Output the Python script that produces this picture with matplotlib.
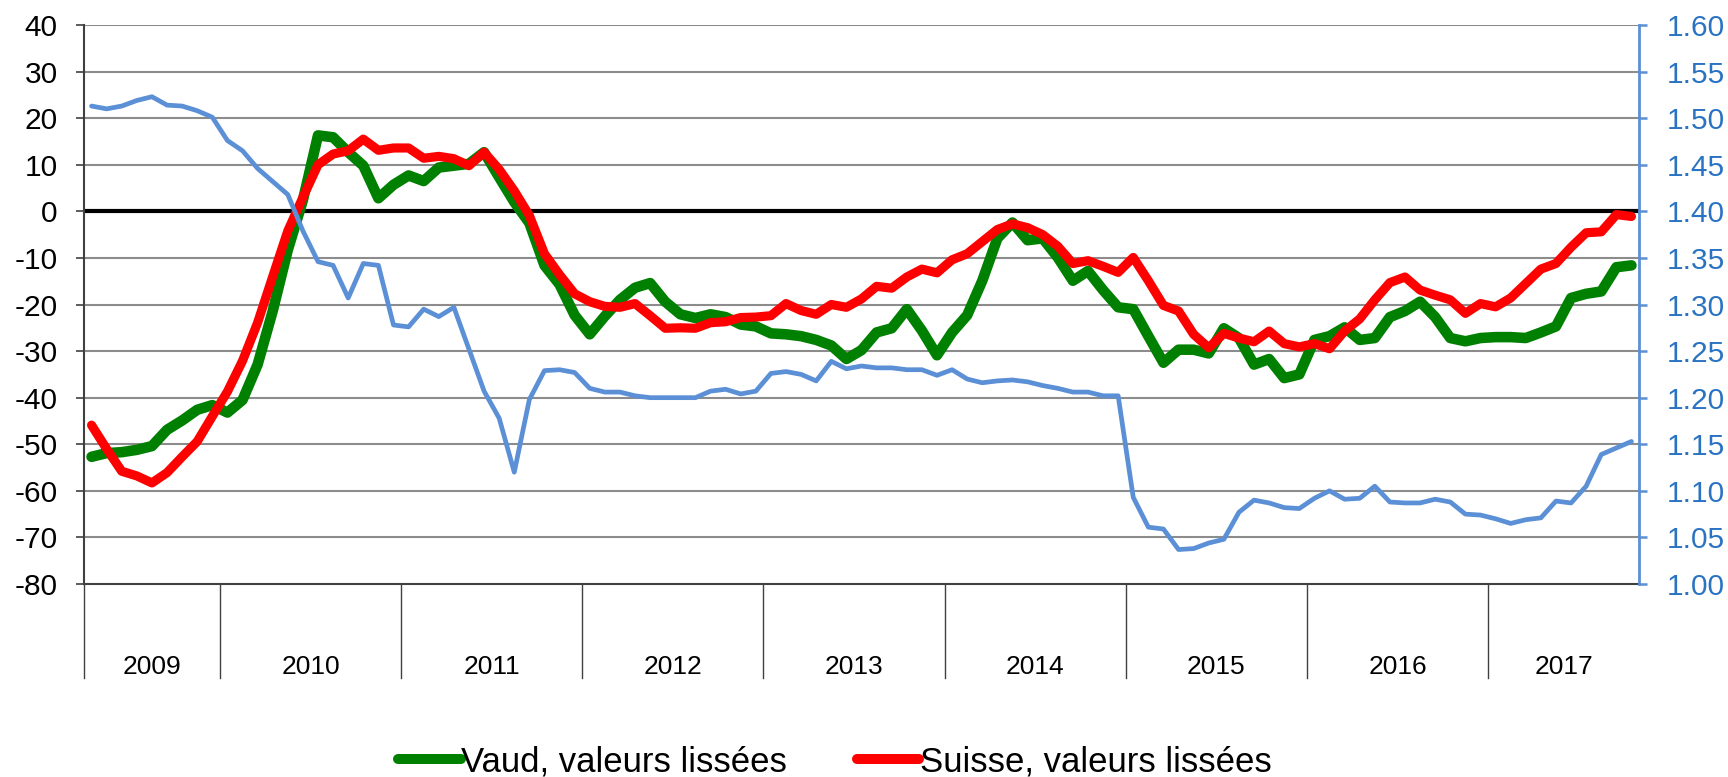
#!/usr/bin/env python3
import matplotlib

matplotlib.use("Agg")
import matplotlib.pyplot as plt
from matplotlib.lines import Line2D
import numpy as np

# monthly values, April 2009 .. October 2017
years = [2009, 2010, 2011, 2012, 2013, 2014, 2015, 2016, 2017]
months_per_year = [9, 12, 12, 12, 12, 12, 12, 12, 10]

vaud = [
    -52.7, -51.9, -51.7, -51.2, -50.4, -46.9, -44.9, -42.6, -41.6,
    -43.2, -40.5, -32.9, -21.4, -8.3, 2.4, 16.3, 15.9, 12.7, 9.8, 2.8, 5.7,
    7.7, 6.5, 9.4, 9.8, 10.2, 12.7, 7.3, 2.0, -2.5, -11.6, -15.7, -22.3,
    -26.4, -22.5, -19.0, -16.4, -15.4, -19.4, -22.1, -22.9, -22.1, -22.7, -24.3,
    -24.7, -26.2, -26.4, -26.8, -27.6, -28.8, -31.7, -29.8, -26.0, -25.1, -21.0,
    -25.6, -30.9, -26.0, -22.3, -14.9, -5.8, -2.4, -6.2, -5.8, -9.9, -14.9,
    -12.8, -16.9, -20.6, -21.0, -26.8, -32.5, -29.7, -29.7, -30.5, -25.1, -27.2,
    -32.9, -31.7, -35.8, -35.0, -27.6, -26.8, -24.9, -27.6, -27.2, -22.7, -21.4,
    -19.4, -22.7, -27.2, -27.9, -27.2, -27.0, -27.0, -27.2, -26.0, -24.7, -18.6,
    -17.7, -17.2, -12.0, -11.6,
]

suisse = [
    -45.9, -51.0, -55.8, -56.8, -58.3, -56.1, -52.7, -49.4, -44.0,
    -38.7, -32.1, -23.9, -14.0, -4.2, 3.0, 10.0, 12.3, 13.0, 15.5, 13.1, 13.6,
    13.6, 11.4, 11.8, 11.3, 9.8, 12.7, 9.0, 4.4, -0.9, -9.1, -13.6, -17.7,
    -19.4, -20.4, -20.6, -19.8, -22.4, -25.1, -25.0, -25.1, -23.9, -23.7, -22.8,
    -22.7, -22.4, -19.8, -21.3, -22.1, -20.0, -20.6, -18.8, -16.1, -16.5, -14.1,
    -12.4, -13.2, -10.4, -9.1, -6.5, -3.9, -2.7, -3.5, -5.0, -7.5, -11.2,
    -10.6, -11.8, -13.1, -9.9, -14.9, -20.2, -21.4, -26.4, -29.3, -26.2, -27.2,
    -28.0, -25.7, -28.4, -29.1, -28.4, -29.5, -25.7, -23.1, -19.0, -15.3, -14.1,
    -16.9, -18.0, -19.0, -21.9, -19.8, -20.5, -18.6, -15.5, -12.4, -11.2, -7.7,
    -4.6, -4.4, -0.7, -1.1,
]

eur_chf = [
    1.513, 1.510, 1.513, 1.519, 1.523, 1.514, 1.513, 1.508, 1.501,
    1.476, 1.465, 1.446, 1.432, 1.418, 1.379, 1.346, 1.342, 1.307, 1.344, 1.342, 1.278,
    1.276, 1.295, 1.287, 1.297, 1.252, 1.207, 1.178, 1.120, 1.198, 1.229, 1.230, 1.227,
    1.210, 1.206, 1.206, 1.202, 1.200, 1.200, 1.200, 1.200, 1.207, 1.209, 1.204,
    1.207, 1.226, 1.228, 1.225, 1.218, 1.239, 1.231, 1.234, 1.232, 1.232, 1.230,
    1.230, 1.224, 1.230, 1.220, 1.216, 1.218, 1.219, 1.217, 1.213, 1.210, 1.206,
    1.206, 1.202, 1.202, 1.093, 1.061, 1.059, 1.037, 1.038, 1.044, 1.048, 1.077,
    1.090, 1.087, 1.082, 1.081, 1.092, 1.100, 1.091, 1.092, 1.105, 1.088, 1.087,
    1.087, 1.091, 1.088, 1.075, 1.074, 1.070, 1.065, 1.069, 1.071, 1.089, 1.087,
    1.105, 1.139, 1.146, 1.153,
]

legend_labels = ["Vaud, valeurs lissées", "Suisse, valeurs lissées"]

GREEN = "#008000"
RED = "#FF0000"
BLUE = "#5B8FD6"
BLUE_TXT = "#2A73C2"
GRID = "#8C8C8C"

plt.rcParams["font.family"] = ["Liberation Sans", "DejaVu Sans"]
plt.rcParams["axes.unicode_minus"] = False


def main():
    W, H = 1728, 777
    fig = plt.figure(figsize=(W / 100, H / 100), dpi=100)
    left, right, top, bottom = 84, 1639, 25, 584
    ax = fig.add_axes([left / W, 1 - bottom / H, (right - left) / W, (bottom - top) / H])
    ax2 = ax.twinx()

    x = np.arange(len(vaud))
    n = len(x)

    ax.set_xlim(-0.5, n - 0.5)
    ax.set_ylim(-80, 40)
    ax2.set_ylim(1.0, 1.6)

    # horizontal gridlines, zero line in black
    for v in range(-70, 41, 10):
        if v == 0:
            continue
        ax.axhline(v, color=GRID, lw=1.5, zorder=1)
    ax.axhline(0, color="black", lw=3.0, zorder=2)

    ax.plot(x, vaud, color=GREEN, lw=7.6, solid_joinstyle="round",
            solid_capstyle="round", zorder=3)
    ax.plot(x, suisse, color=RED, lw=6.6, solid_joinstyle="round",
            solid_capstyle="round", zorder=4)
    ax2.plot(x, eur_chf, color=BLUE, lw=3.4, solid_joinstyle="round",
             solid_capstyle="round")

    # axes styling
    ax.set_xticks([])
    ax.set_yticks(range(-80, 41, 10))
    ax.tick_params(axis="y", direction="out", length=6, width=1.2,
                   color="#404040", labelsize=21.5, pad=13)
    for s in ["top", "right"]:
        ax.spines[s].set_visible(False)
    ax.spines["left"].set_color("#404040")
    ax.spines["left"].set_linewidth(1.5)
    ax.spines["bottom"].set_color("#404040")
    ax.spines["bottom"].set_linewidth(1.5)

    ax2.set_yticks(np.arange(1.0, 1.61, 0.05))
    ax2.set_yticklabels([f"{v:.2f}" for v in np.arange(1.0, 1.61, 0.05)])
    ax2.tick_params(axis="y", direction="out", length=6, width=1.8,
                    color=BLUE, labelcolor=BLUE_TXT, labelsize=21.5, pad=14)
    for s in ["top", "left", "bottom"]:
        ax2.spines[s].set_visible(False)
    ax2.spines["right"].set_color(BLUE)
    ax2.spines["right"].set_linewidth(2.0)

    # year separators and labels under the axis
    trans = ax.get_xaxis_transform()
    sep_bottom = -(678 - bottom) / (bottom - top)
    label_y = -(667 - bottom) / (bottom - top)
    start = -0.5
    ax.plot([start, start], [0, sep_bottom], transform=trans, color="#404040",
            lw=1.0, clip_on=False)
    for year, m in zip(years, months_per_year):
        end = start + m
        if year != years[-1]:
            ax.plot([end, end], [0, sep_bottom], transform=trans, color="#404040",
                    lw=1.0, clip_on=False)
        ax.text((start + end) / 2, label_y, str(year), transform=trans,
                ha="center", va="center", fontsize=19)
        start = end

    handles = [
        Line2D([], [], color=GREEN, lw=7.2, solid_capstyle="round"),
        Line2D([], [], color=RED, lw=7.2, solid_capstyle="round"),
    ]
    fig.legend(handles, legend_labels, loc="center", bbox_to_anchor=(835 / W, 1 - 762 / H),
               ncol=2, frameon=False, fontsize=25, handlelength=1.8,
               handletextpad=0.02, columnspacing=2.0)

    fig.savefig("out.png", dpi=100)
    plt.close(fig)


if __name__ == "__main__":
    main()
